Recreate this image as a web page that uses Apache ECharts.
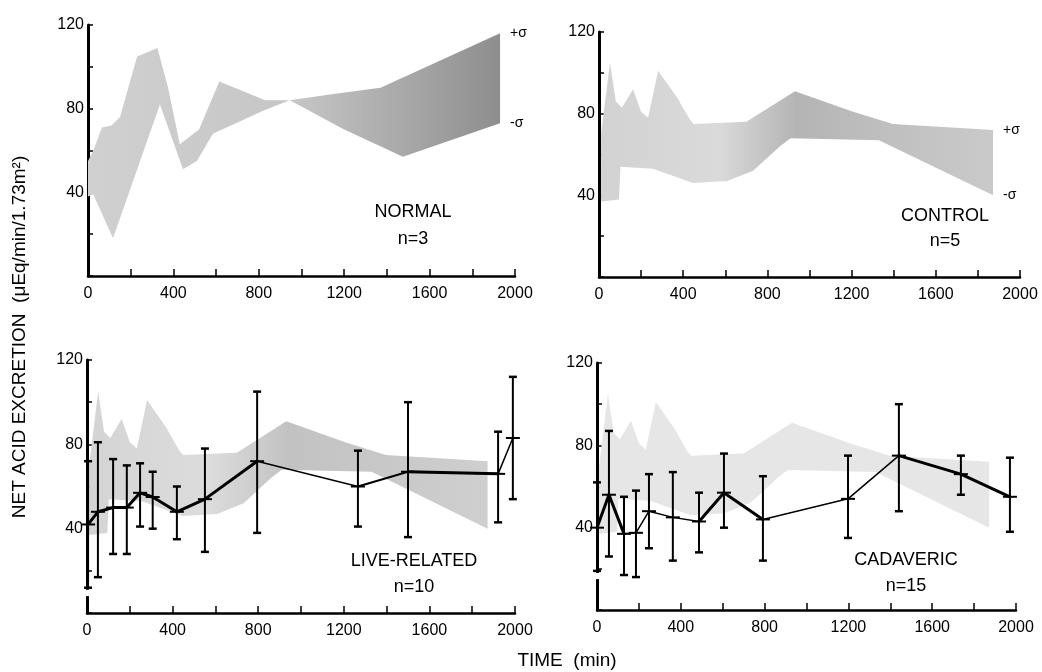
<!DOCTYPE html>
<html>
<head>
<meta charset="utf-8">
<script src="https://cdn.jsdelivr.net/npm/echarts@6/dist/echarts.min.js"></script>
<style>
html, body { margin: 0; padding: 0; background: #fff; }
#chart { width: 1042px; height: 672px; }
</style>
</head>
<body>
<div id="chart"></div>
<script>
// tick labels
const xLabels = [0, 400, 800, 1200, 1600, 2000];
const yLabels = [40, 80, 120];

// +sigma / -sigma envelopes, [time, value]
const normalUpper = [[0, 55], [25, 60], [65, 71], [110, 72], [150, 76], [230, 105], [325, 109], [375, 90], [430, 63], [520, 70], [615, 93], [830, 84], [945, 84], [1150, 87], [1370, 90], [1930, 116]];
const normalLower = [[0, 38], [25, 39], [117, 18], [337, 82], [445, 51], [510, 55], [585, 68], [820, 79], [945, 84], [1200, 70], [1475, 57], [1930, 73]];
const controlUpper = [[10, 70], [52, 105], [80, 86], [109, 83], [162, 92], [200, 81], [233, 78], [281, 101], [370, 88], [432, 77], [450, 75], [700, 76], [931, 91], [1207, 81], [1397, 75], [1872, 72]];
const controlLower = [[10, 37], [95, 38], [102, 54], [257, 53], [447, 46], [608, 47], [732, 52], [860, 64], [910, 68], [1330, 67], [1872, 40]];

// live-related transplants
const lrTime = [5, 51, 122, 186, 248, 307, 420, 551, 795, 1266, 1500, 1921, 1990];
const lrMean = [42, 48, 50, 50, 57, 55, 48, 54, 72, 60, 67, 66, 83];
const lrLow = [12, 17, 28, 28, 41, 40, 35, 29, 38, 41, 36, 43, 54];
const lrHigh = [72, 81, 73, 70, 71, 67, 60, 78, 105, 77, 100, 86, 112];

// cadaveric transplants
const cdTime = [0, 57, 129, 186, 248, 362, 487, 606, 792, 1198, 1441, 1737, 1971];
const cdMean = [40, 56, 37, 37.5, 48, 45, 43, 57, 44, 54, 75, 66, 55];
const cdLow = [19, 26, 17, 16, 30, 24, 28, 40, 24, 35, 48, 56, 38];
const cdHigh = [62, 87, 55, 58, 66, 67, 57, 76, 65, 75, 100, 75, 74];

// pen width of each joining segment (as drawn in the figure)
const lrPen = [3, 3, 3, 3, 3, 3, 3, 3, 1.5, 2, 3, 1.5];
const cdPen = [3, 3, 1.5, 1.5, 1.5, 1.5, 3, 3, 1.5, 1.5, 3, 3];

const font = 'Liberation Sans, Arial, sans-serif';

function grad(stops) {
    return new echarts.graphic.LinearGradient(0, 0, 1, 0, stops.map(function (s) {
        return { offset: s[0], color: s[1] };
    }));
}

function band(idx, upper, lower, fill, sigma) {
    return {
        type: 'custom',
        xAxisIndex: idx,
        yAxisIndex: idx,
        silent: true,
        clip: false,
        z: 1,
        data: [[0, 0]],
        renderItem: function (params, api) {
            let top = upper.map(function (p) { return api.coord(p); });
            let bot = lower.slice().reverse().map(function (p) { return api.coord(p); });
            let children = [{
                type: 'polygon',
                shape: { points: top.concat(bot) },
                style: { fill: fill }
            }];
            if (sigma) {
                let a = top[top.length - 1];
                let b = bot[0];
                children.push({ type: 'text', x: a[0] + 10, y: a[1], style: { text: '+σ', fill: '#000', font: '14px ' + font, textVerticalAlign: 'middle' } });
                children.push({ type: 'text', x: b[0] + 10, y: b[1], style: { text: '-σ', fill: '#000', font: '14px ' + font, textVerticalAlign: 'middle' } });
            }
            return { type: 'group', children: children };
        }
    };
}

function errBars(idx, t, m, lo, hi) {
    let data = t.map(function (v, i) { return [v, m[i], lo[i], hi[i]]; });
    return {
        type: 'custom',
        xAxisIndex: idx,
        yAxisIndex: idx,
        silent: true,
        z: 3,
        data: data,
        encode: { x: 0, y: [1, 2, 3] },
        renderItem: function (params, api) {
            let x = api.value(0);
            let pm = api.coord([x, api.value(1)]);
            let pl = api.coord([x, api.value(2)]);
            let ph = api.coord([x, api.value(3)]);
            let st = { stroke: '#000', lineWidth: 2 };
            return {
                type: 'group',
                children: [
                    { type: 'line', shape: { x1: pl[0], y1: pl[1], x2: ph[0], y2: ph[1] }, style: st },
                    { type: 'line', shape: { x1: pl[0] - 4, y1: pl[1], x2: pl[0] + 4, y2: pl[1] }, style: { stroke: '#000', lineWidth: 2.5 } },
                    { type: 'line', shape: { x1: ph[0] - 4, y1: ph[1], x2: ph[0] + 4, y2: ph[1] }, style: { stroke: '#000', lineWidth: 2.5 } },
                    { type: 'line', shape: { x1: pm[0] - 7, y1: pm[1], x2: pm[0] + 7, y2: pm[1] }, style: st }
                ]
            };
        }
    };
}

// mean line drawn segment by segment so each keeps its own pen width
function meanLine(idx, t, m, pen) {
    return {
        type: 'custom',
        xAxisIndex: idx,
        yAxisIndex: idx,
        silent: true,
        z: 2,
        data: t.map(function (v, i) { return [v, m[i]]; }),
        encode: { x: 0, y: 1 },
        renderItem: function (params, api) {
            let i = params.dataIndex;
            if (i >= t.length - 1) return;
            let a = api.coord([t[i], m[i]]);
            let b = api.coord([t[i + 1], m[i + 1]]);
            return {
                type: 'line',
                shape: { x1: a[0], y1: a[1], x2: b[0], y2: b[1] },
                style: { stroke: '#000', lineWidth: pen[i], lineCap: 'round' }
            };
        }
    };
}

let grids = [
    { left: 88, top: 25, width: 427, height: 251 },
    { left: 599, top: 32, width: 421, height: 245 },
    { left: 87, top: 360, width: 428, height: 253 },
    { left: 597, top: 363, width: 419, height: 247 }
];

let xAxes = grids.map(function (g, i) {
    return {
        gridIndex: i, type: 'value', min: 0, max: 2000, interval: 200,
        axisLine: { show: true, lineStyle: { color: '#000', width: 2.5 } },
        axisTick: { inside: true, length: 7, lineStyle: { color: '#000', width: 1.5 } },
        axisLabel: {
            color: '#000', fontSize: 16, fontFamily: font, margin: 10,
            formatter: function (v) { return xLabels.indexOf(v) >= 0 ? String(v) : ''; }
        },
        splitLine: { show: false }
    };
});

let yAxes = grids.map(function (g, i) {
    return {
        gridIndex: i, type: 'value', min: 0, max: 120, interval: 20,
        axisLine: { show: true, onZero: false, lineStyle: { color: '#000', width: 3 } },
        axisTick: { inside: true, length: 5, lineStyle: { color: '#000', width: 1.5 } },
        axisLabel: {
            color: '#000', fontSize: 16, fontFamily: font, margin: 4,
            formatter: function (v) { return yLabels.indexOf(v) >= 0 ? String(v) : ''; }
        },
        splitLine: { show: false }
    };
});

function panelText(x, y, txt) {
    return { type: 'text', x: x, y: y, style: { text: txt, fill: '#000', font: '18px ' + font, textAlign: 'center', textVerticalAlign: 'middle' } };
}

let option = {
    backgroundColor: '#fff',
    animation: false,
    grid: grids,
    xAxis: xAxes,
    yAxis: yAxes,
    graphic: [
        panelText(413, 212, 'NORMAL'), panelText(413, 239, 'n=3'),
        panelText(945, 216, 'CONTROL'), panelText(945, 241, 'n=5'),
        panelText(414, 561, 'LIVE-RELATED'), panelText(414, 587, 'n=10'),
        panelText(906, 560, 'CADAVERIC'), panelText(906, 586, 'n=15'),
        {
            type: 'text', x: 20, y: 337, rotation: Math.PI / 2,
            style: { text: 'NET ACID EXCRETION  (μEq/min/1.73m²)', fill: '#000', font: '19px ' + font, textAlign: 'center', textVerticalAlign: 'middle' }
        },
        {
            type: 'text', x: 567, y: 661,
            style: { text: 'TIME  (min)', fill: '#000', font: '19px ' + font, textAlign: 'center', textVerticalAlign: 'middle' }
        }
    ],
    series: [
        band(0, normalUpper, normalLower, grad([[0, '#d0d0d0'], [0.5, '#c6c6c6'], [1, '#8e8e8e']]), true),
        band(1, controlUpper, controlLower, grad([[0, '#d2d2d2'], [0.3, '#dadada'], [0.5, '#b4b4b4'], [0.7, '#bebebe'], [1, '#cacaca']]), true),
        band(2, controlUpper, controlLower, grad([[0, '#d4d4d4'], [0.3, '#dcdcdc'], [0.5, '#c2c2c2'], [1, '#cfcfcf']]), false),
        band(3, controlUpper, controlLower, '#e6e6e6', false),
        meanLine(2, lrTime, lrMean, lrPen),
        errBars(2, lrTime, lrMean, lrLow, lrHigh),
        meanLine(3, cdTime, cdMean, cdPen),
        errBars(3, cdTime, cdMean, cdLow, cdHigh)
    ]
};

let myChart = echarts.init(document.getElementById('chart'));
myChart.setOption(option);

// small break in the lower y axes, as in the figure
let gaps = [[2, 8, 11], [3, 15, 18]];
let breakRects = gaps.map(function (g) {
    let a = myChart.convertToPixel({ gridIndex: g[0] }, [0, g[2]]);
    let b = myChart.convertToPixel({ gridIndex: g[0] }, [0, g[1]]);
    return { type: 'rect', z: 100, shape: { x: a[0] - 3, y: a[1], width: 6, height: b[1] - a[1] }, style: { fill: '#fff' } };
});
myChart.setOption({ graphic: option.graphic.concat(breakRects) });
</script>
</body>
</html>
